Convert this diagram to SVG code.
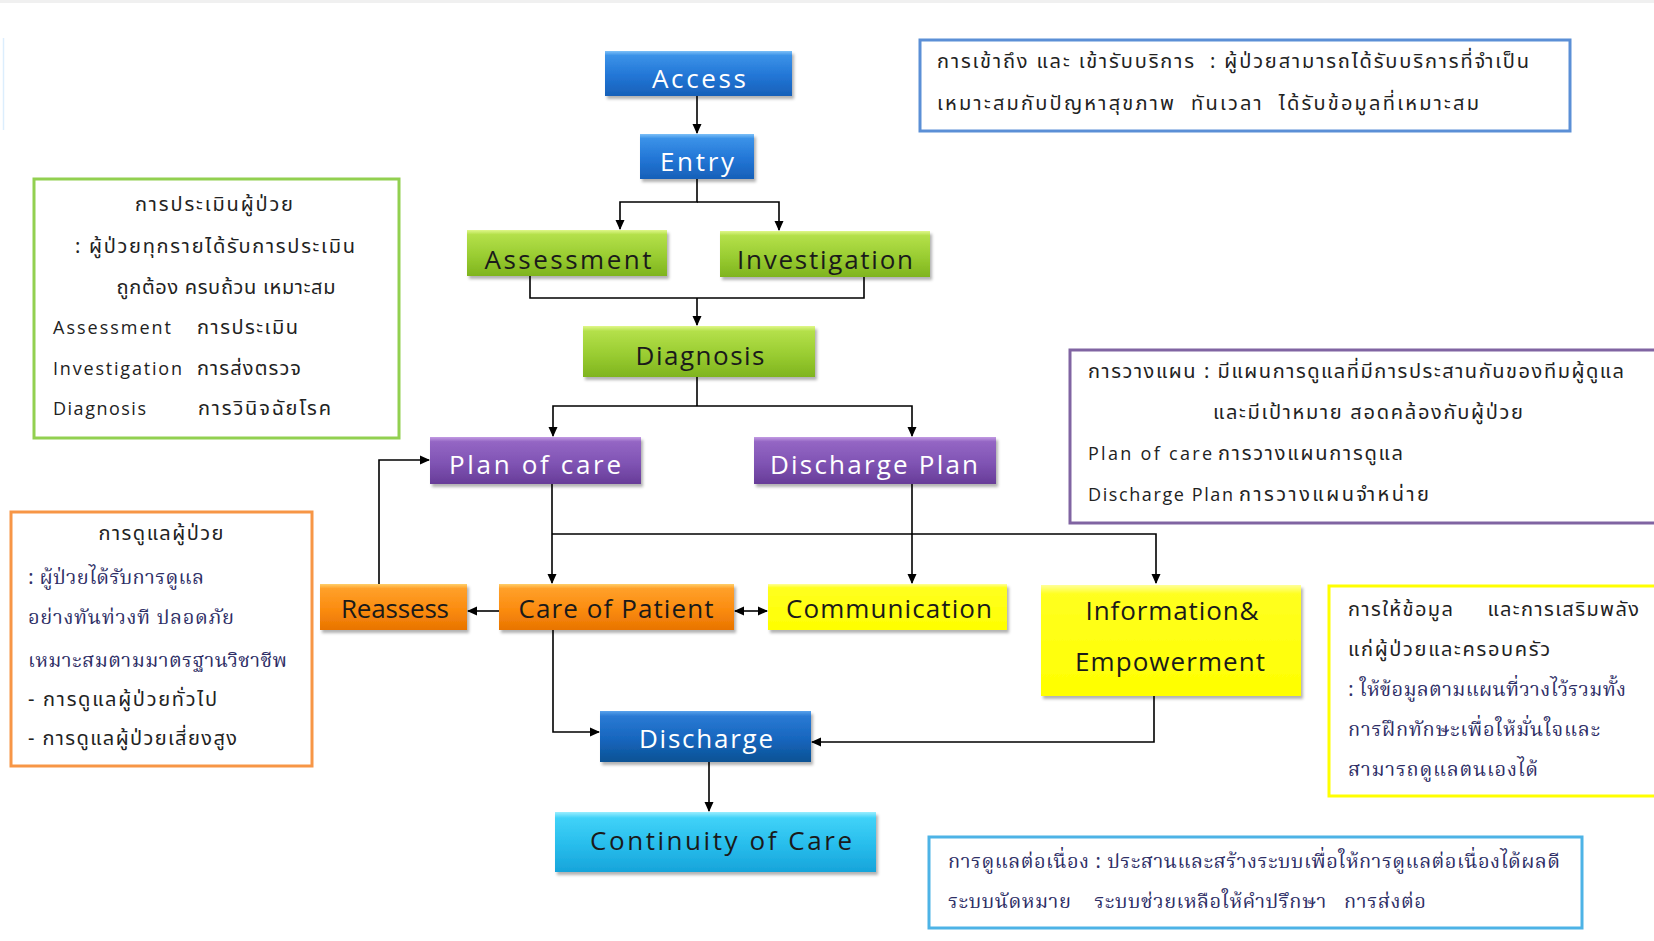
<svg xmlns="http://www.w3.org/2000/svg" width="1654" height="941" viewBox="0 0 1654 941">
<style>
.lbl{font-family:"Open Sans","DejaVu Sans",sans-serif;font-size:26px;text-anchor:middle}
.w{fill:#ffffff}
.d{fill:#1a1a1a}
.th{font-family:"Noto Sans Thai","Noto Sans","DejaVu Sans",sans-serif;font-size:20px;fill:#222;white-space:pre}
.ths{font-family:"Noto Serif Thai","Liberation Serif","Noto Sans Thai",serif;font-size:20px;fill:#2e2e66;white-space:pre}
.en{font-family:"Open Sans","DejaVu Sans",sans-serif;font-size:18px;fill:#222}
.con{fill:none;stroke:#000;stroke-width:1.6}
.box{fill:#fff;stroke-width:3}
</style>
<defs>
<linearGradient id="gBlue" x1="0" y1="0" x2="0" y2="1">
<stop offset="0" stop-color="#7cc0f8"/><stop offset="0.1" stop-color="#3b92e8"/><stop offset="0.55" stop-color="#2276d6"/><stop offset="1" stop-color="#1760b8"/>
</linearGradient>
<linearGradient id="gBlueD" x1="0" y1="0" x2="0" y2="1">
<stop offset="0" stop-color="#5aa2ec"/><stop offset="0.1" stop-color="#2a7ad4"/><stop offset="0.55" stop-color="#1766be"/><stop offset="1" stop-color="#0b5294"/>
</linearGradient>
<linearGradient id="gGreen" x1="0" y1="0" x2="0" y2="1">
<stop offset="0" stop-color="#e0f78a"/><stop offset="0.1" stop-color="#b4e04a"/><stop offset="0.55" stop-color="#9acd32"/><stop offset="1" stop-color="#7fb41e"/>
</linearGradient>
<linearGradient id="gPurple" x1="0" y1="0" x2="0" y2="1">
<stop offset="0" stop-color="#c39be3"/><stop offset="0.1" stop-color="#9466c4"/><stop offset="0.55" stop-color="#8054b4"/><stop offset="1" stop-color="#673c98"/>
</linearGradient>
<linearGradient id="gOrange" x1="0" y1="0" x2="0" y2="1">
<stop offset="0" stop-color="#ffcf6a"/><stop offset="0.1" stop-color="#ffa02a"/><stop offset="0.55" stop-color="#fb8c10"/><stop offset="1" stop-color="#e87400"/>
</linearGradient>
<linearGradient id="gYellow" x1="0" y1="0" x2="0" y2="1">
<stop offset="0" stop-color="#ffff9a"/><stop offset="0.08" stop-color="#ffff20"/><stop offset="1" stop-color="#ffff00"/>
</linearGradient>
<linearGradient id="gCyan" x1="0" y1="0" x2="0" y2="1">
<stop offset="0" stop-color="#9aeeff"/><stop offset="0.1" stop-color="#40d2f8"/><stop offset="0.55" stop-color="#28bdec"/><stop offset="1" stop-color="#17a4da"/>
</linearGradient>
<filter id="sh" x="-10%" y="-10%" width="130%" height="140%">
<feDropShadow dx="2" dy="3" stdDeviation="1.5" flood-color="#000" flood-opacity="0.3"/>
</filter>
<marker id="ar" markerUnits="userSpaceOnUse" markerWidth="10" markerHeight="10" refX="9" refY="5" orient="auto-start-reverse">
<path d="M0,0.5 L10,5 L0,9.5 z" fill="#000"/>
</marker>
</defs>
<rect x="0" y="0" width="1654" height="941" fill="#ffffff"/>
<rect x="0" y="0" width="1654" height="3" fill="#f0f0f0"/>
<line x1="3.5" y1="38" x2="3.5" y2="130" stroke="#dceefd" stroke-width="1.5"/>

<g id="connectors">
<path class="con" d="M697 96 V133" marker-end="url(#ar)"/>
<path class="con" d="M697 179 V202 H620 V229" marker-end="url(#ar)"/>
<path class="con" d="M697 202 H779 V230" marker-end="url(#ar)" stroke-width="2.2"/>
<path class="con" d="M530 276 V298 H864 V277"/>
<path class="con" d="M697 298 V325" marker-end="url(#ar)"/>
<path class="con" d="M697 377 V406"/>
<path class="con" d="M553 436 V406 H912 V436" marker-start="url(#ar)" marker-end="url(#ar)"/>
<path class="con" d="M552 484 V583" marker-end="url(#ar)"/>
<path class="con" d="M552 534 H1156 V583" marker-end="url(#ar)"/>
<path class="con" d="M912 484 V583" marker-end="url(#ar)"/>
<path class="con" d="M499 611 H468" marker-end="url(#ar)"/>
<path class="con" d="M379 584 V460 H429" marker-end="url(#ar)"/>
<path class="con" d="M735 611 H767" marker-start="url(#ar)" marker-end="url(#ar)"/>
<path class="con" d="M553 630 V732 H599" marker-end="url(#ar)"/>
<path class="con" d="M1154 696 V742 H812" marker-end="url(#ar)"/>
<path class="con" d="M709 762 V811" marker-end="url(#ar)"/>
</g>

<g id="access"><rect x="605" y="51" width="187" height="45" fill="url(#gBlue)" filter="url(#sh)"/><text class="lbl w" x="699" y="88" textLength="94">Access</text></g>
<g id="entry"><rect x="640" y="134" width="114" height="45" fill="url(#gBlue)" filter="url(#sh)"/><text class="lbl w" x="697" y="171" textLength="74">Entry</text></g>
<g id="assessment"><rect x="467" y="230" width="200" height="46" fill="url(#gGreen)" filter="url(#sh)"/><text class="lbl d" x="568" y="269" textLength="167">Assessment</text></g>
<g id="investigation"><rect x="720" y="231" width="210" height="46" fill="url(#gGreen)" filter="url(#sh)"/><text class="lbl d" x="825" y="269" textLength="176">Investigation</text></g>
<g id="diagnosis"><rect x="583" y="326" width="232" height="51" fill="url(#gGreen)" filter="url(#sh)"/><text class="lbl d" x="700" y="365" textLength="129">Diagnosis</text></g>
<g id="plan-of-care"><rect x="430" y="437" width="211" height="47" fill="url(#gPurple)" filter="url(#sh)"/><text class="lbl w" x="535" y="474" textLength="172">Plan of care</text></g>
<g id="discharge-plan"><rect x="754" y="437" width="242" height="47" fill="url(#gPurple)" filter="url(#sh)"/><text class="lbl w" x="874" y="474" textLength="208">Discharge Plan</text></g>
<g id="reassess"><rect x="320" y="584" width="147" height="46" fill="url(#gOrange)" filter="url(#sh)"/><text class="lbl d" x="395" y="618" textLength="108">Reassess</text></g>
<g id="care-of-patient"><rect x="499" y="584" width="235" height="46" fill="url(#gOrange)" filter="url(#sh)"/><text class="lbl d" x="616" y="618" textLength="195">Care of Patient</text></g>
<g id="communication"><rect x="768" y="584" width="239" height="46" fill="url(#gYellow)" filter="url(#sh)"/><text class="lbl d" x="889" y="618" textLength="206">Communication</text></g>
<g id="information"><rect x="1041" y="585" width="260" height="111" fill="url(#gYellow)" filter="url(#sh)"/><text class="lbl d" x="1172" y="620" textLength="173">Information&amp;</text><text class="lbl d" x="1170" y="671" textLength="190">Empowerment</text></g>
<g id="discharge"><rect x="600" y="711" width="211" height="51" fill="url(#gBlueD)" filter="url(#sh)"/><text class="lbl w" x="706" y="748" textLength="134">Discharge</text></g>
<g id="continuity"><rect x="555" y="812" width="321" height="60" fill="url(#gCyan)" filter="url(#sh)"/><text class="lbl d" x="721" y="850" font-size="27" textLength="262">Continuity of Care</text></g>

<g id="note-access">
<rect class="box" x="920" y="40" width="650" height="91" stroke="#5b8fd6"/>
<text class="th" x="937" y="68" textLength="592">การเข้าถึง และ เข้ารับบริการ  : ผู้ป่วยสามารถได้รับบริการที่จำเป็น</text>
<text class="th" x="937" y="110" textLength="542">เหมาะสมกับปัญหาสุขภาพ  ทันเวลา  ได้รับข้อมูลที่เหมาะสม</text>
</g>
<g id="note-assessment">
<rect class="box" x="34" y="179" width="365" height="259" stroke="#92d050"/>
<text class="th" x="214" y="211" text-anchor="middle" textLength="158">การประเมินผู้ป่วย</text>
<text class="th" x="215" y="253" text-anchor="middle" textLength="280">: ผู้ป่วยทุกรายได้รับการประเมิน</text>
<text class="th" x="226" y="294" text-anchor="middle" textLength="219">ถูกต้อง ครบถ้วน เหมาะสม</text>
<text class="en" x="53" y="334" textLength="118">Assessment</text><text class="th" x="197" y="334" textLength="101">การประเมิน</text>
<text class="en" x="53" y="375" textLength="129">Investigation</text><text class="th" x="197" y="375" textLength="104">การส่งตรวจ</text>
<text class="en" x="53" y="415" textLength="93">Diagnosis</text><text class="th" x="198" y="415" textLength="133">การวินิจฉัยโรค</text>
</g>
<g id="note-plan">
<rect class="box" x="1070" y="350" width="600" height="173" stroke="#8064a2"/>
<text class="th" x="1088" y="378" textLength="536">การวางแผน : มีแผนการดูแลที่มีการประสานกันของทีมผู้ดูแล</text>
<text class="th" x="1213" y="419" textLength="310">และมีเป้าหมาย สอดคล้องกับผู้ป่วย</text>
<text class="en" x="1088" y="460" textLength="124">Plan of care</text><text class="th" x="1218" y="460" textLength="185">การวางแผนการดูแล</text>
<text class="en" x="1088" y="501" textLength="145">Discharge Plan</text><text class="th" x="1239" y="501" textLength="190">การวางแผนจำหน่าย</text>
</g>
<g id="note-care">
<rect class="box" x="11" y="512" width="301" height="254" stroke="#f79646"/>
<text class="th" x="161" y="540" text-anchor="middle" textLength="125">การดูแลผู้ป่วย</text>
<text class="ths" x="28" y="584" textLength="176">: ผู้ป่วยได้รับการดูแล</text>
<text class="ths" x="28" y="624" textLength="206">อย่างทันท่วงที ปลอดภัย</text>
<text class="ths" x="28" y="667" textLength="259">เหมาะสมตามมาตรฐานวิชาชีพ</text>
<text class="th" x="28" y="706" textLength="189">- การดูแลผู้ป่วยทั่วไป</text>
<text class="th" x="28" y="745" textLength="209">- การดูแลผู้ป่วยเสี่ยงสูง</text>
</g>
<g id="note-info">
<rect class="box" x="1329" y="586" width="340" height="210" stroke="#ffff00" stroke-width="4"/>
<text class="th" x="1348" y="616" textLength="291">การให้ข้อมูล     และการเสริมพลัง</text>
<text class="th" x="1348" y="656" textLength="202">แก่ผู้ป่วยและครอบครัว</text>
<text class="ths" x="1348" y="696" textLength="278">: ให้ข้อมูลตามแผนที่วางไว้รวมทั้ง</text>
<text class="ths" x="1348" y="736" textLength="252">การฝึกทักษะเพื่อให้มั่นใจและ</text>
<text class="ths" x="1348" y="776" textLength="190">สามารถดูแลตนเองได้</text>
</g>
<g id="note-continuity">
<rect class="box" x="929" y="837" width="653" height="91" stroke="#4db3e6"/>
<text class="ths" x="948" y="868" textLength="612" fill="#333">การดูแลต่อเนื่อง : ประสานและสร้างระบบเพื่อให้การดูแลต่อเนื่องได้ผลดี</text>
<text class="ths" x="948" y="908" textLength="478" fill="#333">ระบบนัดหมาย    ระบบช่วยเหลือให้คำปรึกษา   การส่งต่อ</text>
</g>
</svg>
